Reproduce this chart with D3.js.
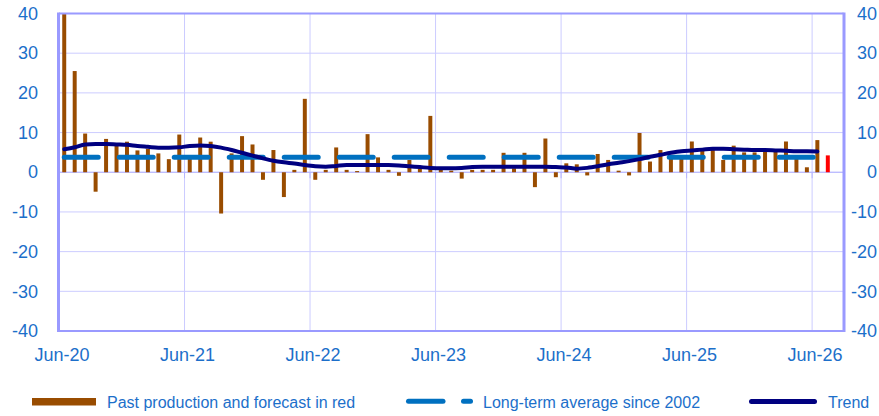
<!DOCTYPE html>
<html>
<head>
<meta charset="utf-8">
<script src="https://cdn.jsdelivr.net/npm/d3@7"></script>
<style>
  body { margin: 0; background: #fff; }
  svg { display: block; font-family: "Liberation Sans", Arial, sans-serif; }
</style>
</head>
<body>
<svg id="chart" width="879" height="416"></svg>
<script>
// ---- data ----
const startMonth = new Date(2020, 5, 1);   // Jun-20
const endMonth = new Date(2026, 8, 1);     // axis runs to end of Aug-26
const tickLabels = ["Jun-20", "Jun-21", "Jun-22", "Jun-23", "Jun-24", "Jun-25", "Jun-26"];
const yTicks = [40, 30, 20, 10, 0, -10, -20, -30, -40];

// past production, monthly, Jun-20 .. Jun-26
const production = [
  40, 25.5, 9.75, -4.9, 8.4, 6.8, 7.7, 5.5, 5.9, 4.75, 3.3, 9.5,
  3.6, 8.75, 7.7, -10.4, 4.75, 9.1, 7.0, -1.9, 5.6, -6.25, 0.6, 18.5,
  -1.9, 0.6, 6.25, 0.6, 0.3, 9.6, 3.75, 0.6, -0.9, 3.1, 1.0, 14.2,
  0.6, 0.4, -1.6, 0.6, 0.6, 0.6, 4.9, 1.0, 4.9, -3.75, 8.5, -1.25,
  2.25, 2.0, -0.8, 4.6, 3.1, 0.4, -0.8, 9.9, 2.7, 5.6, 4.0, 4.0,
  7.75, 5.5, 5.6, 3.1, 6.7, 5.0, 5.0, 5.2, 5.2, 7.75, 4.3, 1.25,
  8.1
];
// forecast (red), Jul-26
const forecast = [4.25];

const trend = [
  5.8, 6.3, 7.0, 7.1, 7.1, 7.0, 6.9, 6.6, 6.4, 6.2, 6.2, 6.3,
  6.6, 6.75, 6.6, 6.2, 5.6, 4.9, 4.2, 3.5, 2.9, 2.5, 2.2, 1.8,
  1.5, 1.4, 1.6, 1.8, 1.8, 1.8, 1.8, 1.8, 1.7, 1.5, 1.3, 1.1,
  1.0, 1.0, 1.1, 1.3, 1.4, 1.4, 1.4, 1.4, 1.4, 1.4, 1.4, 1.3,
  1.2, 0.9, 1.1, 1.5, 2.0, 2.4, 2.8, 3.3, 3.9, 4.4, 4.9, 5.3,
  5.5, 5.7, 5.9, 5.9, 5.8, 5.7, 5.6, 5.6, 5.5, 5.4, 5.3, 5.3,
  5.25
];
const longTermAverage = 3.8;

// ---- layout ----
const L = 59, R = 843.5, T = 13.5, B = 331;
const months = d3.timeMonth.range(startMonth, endMonth);
const fmt = d3.timeFormat("%b-%y");
const cats = months.map(fmt);

const x = d3.scaleBand().domain(cats).range([L, R]).paddingInner(0.62).paddingOuter(0.31);
const y = d3.scaleLinear().domain([-40, 40]).range([B, T]);
const cx = c => x(c) + x.bandwidth() / 2;

const svg = d3.select("#chart");
const textColor = "#1c6fca";
const gridColor = "#ccccff";
const frameColor = "#9a9aff";

// horizontal gridlines
svg.append("g").selectAll("line").data(yTicks).join("line")
  .attr("x1", L).attr("x2", R)
  .attr("y1", d => y(d)).attr("y2", d => y(d))
  .attr("stroke", gridColor).attr("stroke-width", 1);

// vertical gridlines at each June
const tickCats = cats.filter(c => tickLabels.includes(c));
const gx = d => x(d) - x.step() * 0.31;
svg.append("g").selectAll("line").data(tickCats).join("line")
  .attr("x1", gx).attr("x2", gx)
  .attr("y1", T).attr("y2", B)
  .attr("stroke", gridColor).attr("stroke-width", 1);

// category axis at zero with tick marks
svg.append("line").attr("x1", L).attr("x2", R).attr("y1", y(0)).attr("y2", y(0))
  .attr("stroke", "#b4b4ff").attr("stroke-width", 1);
svg.append("g").selectAll("line").data(tickCats).join("line")
  .attr("x1", gx).attr("x2", gx)
  .attr("y1", y(0)).attr("y2", y(0) + 6)
  .attr("stroke", "#b4b4ff").attr("stroke-width", 1);

// bars
svg.append("g").selectAll("rect").data(production).join("rect")
  .attr("x", (d, i) => x(cats[i]))
  .attr("width", x.bandwidth())
  .attr("y", d => y(Math.max(0, d)))
  .attr("height", d => Math.abs(y(d) - y(0)))
  .attr("fill", "#994c00");
svg.append("g").selectAll("rect").data(forecast).join("rect")
  .attr("x", (d, i) => x(cats[production.length + i]))
  .attr("width", x.bandwidth())
  .attr("y", d => y(Math.max(0, d)))
  .attr("height", d => Math.abs(y(d) - y(0)))
  .attr("fill", "#ff0000");

// long-term average (dashed)
svg.append("line")
  .attr("x1", cx(cats[0])).attr("x2", cx(cats[production.length - 1]))
  .attr("y1", y(longTermAverage)).attr("y2", y(longTermAverage))
  .attr("stroke", "#0070c0").attr("stroke-width", 5)
  .attr("stroke-linecap", "round").attr("stroke-dasharray", "34,21");

// trend
const line = d3.line().x((d, i) => cx(cats[i])).y(d => y(d)).curve(d3.curveMonotoneX);
svg.append("path").datum(trend).attr("d", line)
  .attr("fill", "none").attr("stroke", "#000080").attr("stroke-width", 4)
  .attr("stroke-linejoin", "round").attr("stroke-linecap", "round");

// frame
svg.append("line").attr("x1", L).attr("x2", R).attr("y1", T).attr("y2", T)
  .attr("stroke", frameColor).attr("stroke-width", 2);
svg.append("line").attr("x1", L).attr("x2", R).attr("y1", B).attr("y2", B)
  .attr("stroke", frameColor).attr("stroke-width", 2);
svg.append("line").attr("x1", L - 0.5).attr("x2", L - 0.5).attr("y1", T - 1).attr("y2", B + 1)
  .attr("stroke", frameColor).attr("stroke-width", 3);
svg.append("line").attr("x1", R + 0.5).attr("x2", R + 0.5).attr("y1", T - 1).attr("y2", B + 1)
  .attr("stroke", frameColor).attr("stroke-width", 3);

// y tick labels (left & right)
svg.append("g").selectAll("text").data(yTicks).join("text")
  .attr("x", 38).attr("y", d => y(d) + 6.2)
  .attr("text-anchor", "end").attr("font-size", 18).attr("fill", textColor)
  .text(d => d);
svg.append("g").selectAll("text").data(yTicks).join("text")
  .attr("x", 877).attr("y", d => y(d) + 6.2)
  .attr("text-anchor", "end").attr("font-size", 18).attr("fill", textColor)
  .text(d => d);

// x tick labels
svg.append("g").selectAll("text").data(tickCats).join("text")
  .attr("x", d => gx(d) + 3).attr("y", 361)
  .attr("text-anchor", "middle").attr("font-size", 18).attr("fill", textColor)
  .text(d => d);

// legend
const lg = svg.append("g");
lg.append("rect").attr("x", 32).attr("y", 398).attr("width", 64).attr("height", 7.5).attr("fill", "#994c00");
lg.append("text").attr("x", 107).attr("y", 408).attr("font-size", 16).attr("fill", textColor)
  .text("Past production and forecast in red");
lg.append("line").attr("x1", 408.5).attr("x2", 443).attr("y1", 401.3).attr("y2", 401.3)
  .attr("stroke", "#0070c0").attr("stroke-width", 5).attr("stroke-linecap", "round");
lg.append("line").attr("x1", 463.5).attr("x2", 470.5).attr("y1", 401.3).attr("y2", 401.3)
  .attr("stroke", "#0070c0").attr("stroke-width", 5).attr("stroke-linecap", "round");
lg.append("text").attr("x", 483).attr("y", 408).attr("font-size", 16).attr("fill", textColor)
  .text("Long-term average since 2002");
lg.append("line").attr("x1", 751.5).attr("x2", 814.5).attr("y1", 401.5).attr("y2", 401.5)
  .attr("stroke", "#000080").attr("stroke-width", 5).attr("stroke-linecap", "round");
lg.append("text").attr("x", 828).attr("y", 408).attr("font-size", 16).attr("fill", textColor)
  .text("Trend");
</script>
</body>
</html>
